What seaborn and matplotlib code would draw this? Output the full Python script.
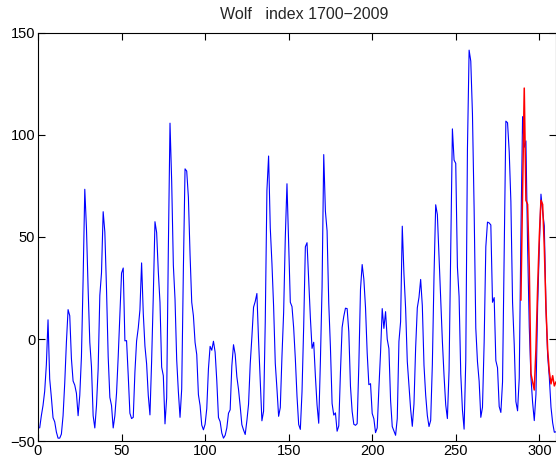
import matplotlib
matplotlib.use("Agg")
import matplotlib.pyplot as plt
import seaborn as sns
import numpy as np
import pandas as pd

# Centered Wolf sunspot index, 1700-2009 (index 1..310)
wolf = [
    -43.6, -37.6, -32.6, -25.6, -12.6, 9.4, -19.6, -28.6, -38.6, -40.6,
    -45.6, -48.6, -48.6, -46.6, -37.6, -21.6, -1.6, 14.4, 11.4, -9.6,
    -20.6, -22.6, -26.6, -37.6, -27.6, -8.6, 29.4, 73.4, 54.4, 24.4,
    -1.6, -13.6, -37.6, -43.6, -32.6, -14.6, 21.4, 32.4, 62.4, 52.4,
    24.4, -8.6, -28.6, -32.6, -43.6, -37.6, -26.6, -8.6, 11.4, 32.3,
    34.8, -0.9, -0.8, -17.9, -36.4, -39.0, -38.4, -16.2, -1.0, 5.4,
    14.3, 37.3, 12.6, -3.5, -12.2, -27.7, -37.2, -10.8, 21.2, 57.5,
    52.2, 33.0, 17.9, -13.8, -18.0, -41.6, -28.8, 43.9, 105.8, 77.3,
    36.2, 19.5, -10.1, -25.8, -38.4, -24.5, 34.3, 83.4, 82.3, 69.5,
    41.3, 18.0, 11.4, -1.7, -7.6, -27.3, -32.6, -42.2, -44.5, -41.8,
    -34.1, -14.6, -3.6, -5.5, -1.1, -6.4, -20.5, -38.5, -40.5, -46.1,
    -48.6, -47.2, -43.6, -36.4, -34.7, -13.2, -2.8, -7.5, -18.5, -24.7,
    -33.0, -42.0, -44.6, -46.8, -40.1, -32.0, -12.3, 1.0, 15.6, 18.4,
    22.3, -0.8, -21.1, -40.1, -35.4, 8.3, 72.9, 89.7, 54.6, 37.1,
    16.0, -11.9, -24.4, -37.9, -33.6, -8.5, 12.9, 49.9, 76.1, 47.7,
    18.0, 15.9, 5.5, -9.6, -28.0, -41.9, -44.3, -25.9, 6.2, 45.2,
    47.2, 28.6, 10.5, -4.6, -1.6, -18.1, -32.3, -41.3, -11.0, 25.4,
    90.4, 62.6, 53.0, 17.6, -3.9, -31.6, -37.3, -36.2, -45.2, -42.6,
    -16.3, 5.7, 11.1, 15.1, 14.9, 3.6, -23.2, -35.5, -41.8, -42.3,
    -41.5, -13.0, 24.4, 36.5, 29.4, 15.4, -6.8, -22.4, -21.9, -36.5,
    -39.1, -45.9, -43.6, -24.2, -6.6, 14.9, 5.2, 13.4, -0.1, -4.7,
    -30.0, -42.9, -45.0, -47.2, -39.0, -1.2, 8.5, 55.3, 32.0, 15.0,
    -11.0, -22.5, -34.4, -42.8, -31.9, -4.3, 15.3, 20.4, 29.2, 16.3,
    -12.9, -27.4, -37.5, -42.9, -39.9, -12.5, 31.1, 65.8, 61.0, 40.2,
    19.2, -1.1, -18.0, -32.3, -39.0, -15.4, 44.0, 103.0, 87.7, 86.1,
    35.3, 20.8, -17.1, -34.7, -44.2, -10.6, 93.1, 141.6, 136.2, 110.4,
    63.7, 5.3, -11.1, -20.7, -38.4, -33.5, -1.6, 45.2, 57.3, 56.9,
    55.9, 18.0, 20.3, -10.6, -14.1, -33.1, -36.0, -21.1, 43.9, 106.8,
    106.0, 91.8, 67.3, 18.0, -2.7, -30.7, -35.2, -19.2, 51.6, 109.0,
    94.0, 97.1, 45.7, 6.0, -18.7, -31.1, -40.0, -27.1, 15.7, 44.7,
    71.0, 62.4, 55.4, 15.1, -8.2, -18.8, -33.4, -41.1, -45.7, -45.5,
]
wolf_index = list(range(1, len(wolf) + 1))

# Red series (prediction) over the last part
pred_index = list(range(289, 311))
pred = [19, 72, 123, 68, 66, 35, -17, -21, -25, -5, 25, 50,
        68, 66, 45, 15, -5, -16, -22, -18, -23, -21]

title = "Wolf   index 1700\u22122009"
xticks = [0, 50, 100, 150, 200, 250, 300]
yticks = [-50, 0, 50, 100, 150]
ytick_labels = ["\u221250", "0", "50", "100", "150"]

sns.set_style("ticks")
plt.rcParams["font.family"] = ["Liberation Sans", "DejaVu Sans"]

fig = plt.figure(figsize=(5.56, 4.61), dpi=100)
ax = fig.add_axes([38 / 556, 20 / 461, 518 / 556, 408 / 461])

df_b = pd.DataFrame({"x": wolf_index, "y": wolf})
df_r = pd.DataFrame({"x": pred_index, "y": pred})
sns.lineplot(data=df_b, x="x", y="y", ax=ax, color=(0, 0, 1), linewidth=0.8,
             estimator=None, sort=False)
sns.lineplot(data=df_r, x="x", y="y", ax=ax, color=(1, 0, 0), linewidth=1.1,
             estimator=None, sort=False)

ax.set_xlim(0, 310)
ax.set_ylim(-50, 150)
ax.set_xticks(xticks)
ax.set_xticklabels([str(t) for t in xticks])
ax.set_yticks(yticks)
ax.set_yticklabels(ytick_labels)
ax.set_xlabel("")
ax.set_ylabel("")
ax.tick_params(direction="in", length=5, width=0.8, top=True, right=True,
               labelsize=10.5, colors="black", pad=2)
for s in ax.spines.values():
    s.set_color("black")
    s.set_linewidth(0.8)
ax.set_title(title, fontsize=11.5, pad=10, x=0.513)

fig.savefig("out.png", dpi=100)
